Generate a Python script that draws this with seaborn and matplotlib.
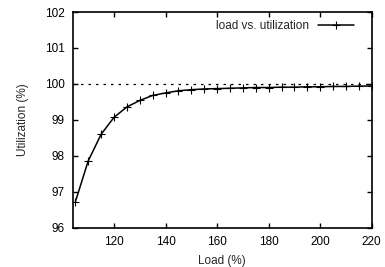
import numpy as np
import matplotlib
matplotlib.use("Agg")
import matplotlib.pyplot as plt
import seaborn as sns
import pandas as pd

# load (%) vs utilization (%)
load = [105, 110, 115, 120, 125, 130, 135, 140, 145, 150, 155, 160, 165, 170,
        175, 180, 185, 190, 195, 200, 205, 210, 215, 220]
utilization = [96.72, 97.86, 98.60, 99.07, 99.36, 99.54, 99.68, 99.75, 99.81,
               99.84, 99.86, 99.87, 99.88, 99.89, 99.90, 99.90, 99.91, 99.91,
               99.92, 99.92, 99.93, 99.93, 99.94, 99.94]
ref_level = 100
x_ticks = [120, 140, 160, 180, 200, 220]
y_ticks = [96, 97, 98, 99, 100, 101, 102]

sns.set_theme(style="ticks")
plt.rcParams['font.family'] = ['Liberation Sans', 'DejaVu Sans']
plt.rcParams['font.size'] = 8.5

df = pd.DataFrame({"load": load, "util": utilization})

fig = plt.figure(figsize=(3.85, 2.67), dpi=100)
ax = fig.add_axes([0.189, 0.147, 0.7765, 0.808])

ax.axhline(ref_level, color="black", lw=0.9, ls=(0, (2, 4)))
sns.lineplot(data=df, x="load", y="util", ax=ax, color="black", lw=1.1,
             marker="+", markersize=5.5, markeredgewidth=0.8,
             markeredgecolor="black", label="load vs. utilization")

ax.set_xlim(104, 220)
ax.set_ylim(96, 102)
ax.set_xticks(x_ticks)
ax.set_yticks(y_ticks)
ax.set_xlabel("Load (%)", fontsize=8.5, labelpad=5)
ax.set_ylabel("Utilization (%)", fontsize=8.5, labelpad=11)
ax.tick_params(direction="in", length=3.5, width=1, top=True, right=True,
               labelsize=8.5, colors="black", pad=6)
for s in ax.spines.values():
    s.set_linewidth(1.2)
    s.set_color("black")

leg = ax.legend(loc="upper right", frameon=False, markerfirst=False,
                handlelength=3.0, fontsize=8.5, borderaxespad=0,
                bbox_to_anchor=(0.955, 0.985))

fig.savefig("out.png", dpi=100)
